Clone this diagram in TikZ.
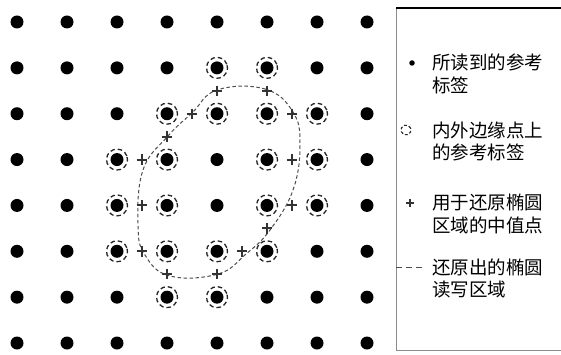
\documentclass[tikz,border=0pt]{standalone}
\usepackage{fontspec}
\newfontfamily\cjk{Noto Sans CJK SC}
\usetikzlibrary{calc}
\begin{document}
\begin{tikzpicture}[x=1pt,y=-1pt,
  dot/.style={circle,fill=black,inner sep=0pt,minimum size=13pt},
  ring/.style={circle,draw=black!85,line width=1.3pt,dash pattern=on 4.5pt off 3pt,inner sep=0pt,minimum size=21pt},
  plusm/.style={inner sep=0pt,minimum size=10pt},
  plusline/.style={line width=2pt,black!80},
  ell/.style={draw=black!70,line width=1pt,dash pattern=on 3.5pt off 2.5pt},
  legtext/.style={anchor=west,align=left,font=\cjk\fontsize{18.5}{22.5}\selectfont,inner sep=0pt},
  frame/.style={draw=black!45,line width=0.8pt}]
\useasboundingbox (0,0) rectangle (561,355);
\fill[white] (0,0) rectangle (561,355);
% grid of tags
\foreach \i in {0,...,7}{
  \foreach \j in {0,...,7}{
    \node[dot] (p\i\j) at ({17+50*\i},{22+45.86*\j}) {};
  }}
% rings on inner/outer edge tags
\foreach \i/\j in {4/1,5/1,3/2,4/2,5/2,6/2,2/3,3/3,5/3,6/3,2/4,3/4,5/4,6/4,2/5,3/5,4/5,5/5,3/6,4/6}{
  \node[ring,rotate=20] (r\i\j) at (p\i\j) {};
}
% midpoints
\node[plusm] (m1) at ($(p41)!0.5!(p42)$) {};
\node[plusm] (m2) at ($(p51)!0.5!(p52)$) {};
\node[plusm] (m3) at ($(p52)!0.5!(p62)$) {};
\node[plusm] (m4) at ($(p53)!0.5!(p63)$) {};
\node[plusm] (m5) at ($(p54)!0.5!(p64)$) {};
\node[plusm] (m6) at ($(p54)!0.5!(p55)$) {};
\node[plusm] (m7) at ($(p45)!0.5!(p55)$) {};
\node[plusm] (m8) at ($(p45)!0.5!(p46)$) {};
\node[plusm] (m9) at ($(p35)!0.5!(p36)$) {};
\node[plusm] (m10) at ($(p25)!0.5!(p35)$) {};
\node[plusm] (m11) at ($(p24)!0.5!(p34)$) {};
\node[plusm] (m12) at ($(p23)!0.5!(p33)$) {};
\node[plusm] (m13) at ($(p32)!0.5!(p33)$) {};
\node[plusm] (m14) at ($(p32)!0.5!(p42)$) {};
% recovered ellipse region
\draw[ell] plot[smooth cycle,tension=0.7] coordinates {(217,90) (265,89) (293,112) (300,145) (293,190) (270,230) (246,254) (218,274) (170,276) (145,255) (138,225) (143,170) (168,136) (192,113)};
\foreach \k in {1,...,14}{
  \draw[plusline] (m\k.west) -- (m\k.east) (m\k.north) -- (m\k.south);
}
% legend frame
\coordinate (fa) at (396,8);
\coordinate (fb) at (561,8);
\coordinate (fc) at (396,350);
\coordinate (fd) at (561,350);
\draw[frame] (fa) -- (fc) -- (fd);
\draw[black,line width=1.6pt] (fa) -- (fb);
% legend entries
\node[circle,fill=black,inner sep=0pt,minimum size=5.5pt] (l1) at (412,63) {};
\node[legtext] (t1) at (432,74) {所读到的参考\\标签};
\node[circle,draw=black!85,line width=1.1pt,dash pattern=on 3pt off 2pt,inner sep=0pt,minimum size=10pt,rotate=20] (l2) at (406,130) {};
\node[legtext] (t2) at (432,141.5) {内外边缘点上\\的参考标签};
\node[plusm,minimum size=7pt] (l3) at (410,203) {};
\draw[line width=1.3pt,black!80] (l3.west) -- (l3.east) (l3.north) -- (l3.south);
\node[legtext] (t3) at (432,214) {用于还原椭圆\\区域的中值点};
\coordinate (l4a) at (396,267);
\coordinate (l4b) at (422,267);
\draw[ell,dash pattern=on 6pt off 4pt] (l4a) -- (l4b);
\node[legtext] (t4) at (432,278.5) {还原出的椭圆\\读写区域};
\end{tikzpicture}
\end{document}
